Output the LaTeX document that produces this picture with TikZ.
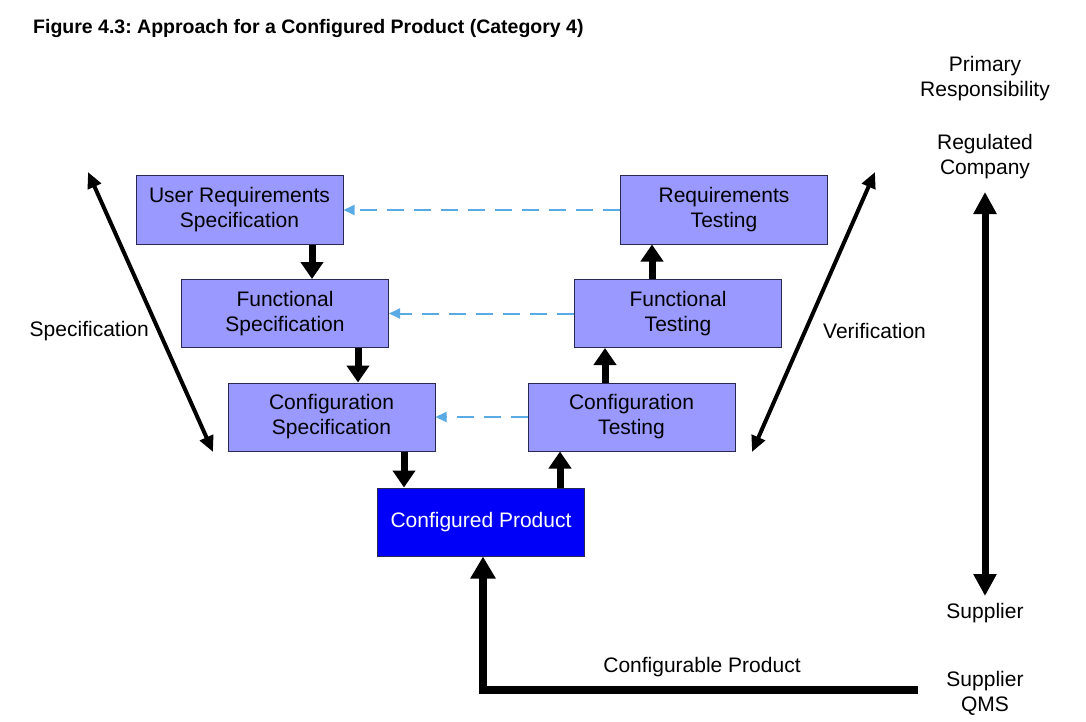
\documentclass[tikz,border=0pt]{standalone}
\usepackage{fontspec}
\setmainfont{Liberation Sans}
\usetikzlibrary{arrows.meta}
\frenchspacing
\definecolor{boxfill}{RGB}{153,153,255}
\definecolor{boxline}{RGB}{40,40,80}
\definecolor{prodfill}{RGB}{0,0,250}
\definecolor{dashblue}{RGB}{90,170,230}
\tikzset{
  x=1pt,y=-1pt,
  stage/.style={draw=boxline,line width=1pt,fill=boxfill,minimum width=207pt,minimum height=68pt,
    inner sep=0pt,align=center,font=\fontsize{21}{25}\selectfont},
  prod/.style={stage,fill=prodfill,text=white},
  lbl/.style={align=center,font=\fontsize{21}{25}\selectfont,inner sep=0pt},
  flow/.style={line width=7pt,-{Triangle[width=22pt,length=17pt]}},
  trace/.style={dashblue,line width=2pt,dash pattern=on 17pt off 10pt,-{Triangle[width=10pt,length=11pt]}},
  span/.style={line width=4pt,{Triangle[width=14pt,length=16pt]}-{Triangle[width=14pt,length=16pt]}},
  resp/.style={line width=7pt,{Triangle[width=22pt,length=22pt]}-{Triangle[width=22pt,length=22pt]}},
}
\begin{document}
\begin{tikzpicture}
\useasboundingbox (0,0) rectangle (1086,722);
\node[anchor=base west,font=\bfseries\fontsize{19.5}{23}\selectfont,inner sep=0pt] (title) at (33,34) {Figure 4.3: Approach for a Configured Product (Category 4)};

\node[stage] (urs) at (239.5,210) {User Requirements\\Specification};
\node[stage] (rt)  at (724,210) {Requirements\\Testing};
\node[stage] (fs)  at (285,313.5) {Functional\\Specification};
\node[stage] (ft)  at (678,313.5) {Functional\\Testing};
\node[stage] (cs)  at (331.5,417) {Configuration\\Specification};
\node[stage] (ct)  at (631.5,417) {Configuration\\Testing};
\node[prod]  (cp)  at (481,522) {Configured Product};

% thick flow arrows
\draw[flow] (urs.south -| 312,0) -- (fs.north -| 312,0);
\draw[flow] (fs.south -| 358,0) -- (cs.north -| 358,0);
\draw[flow] (cs.south -| 404,0) -- (cp.north -| 404,0);
\draw[flow] (cp.north -| 560,0) -- (ct.south -| 560,0);
\draw[flow] (ct.north -| 605,0) -- (ft.south -| 605,0);
\draw[flow] (ft.north -| 652,0) -- (rt.south -| 652,0);

% dashed traceability
\draw[trace] (rt.west) -- (urs.east);
\draw[trace] (ft.west) -- (fs.east);
\draw[trace] (ct.west) -- (cs.east);

% diagonal spans
\coordinate (sa) at (88,172);
\coordinate (sb) at (213,452);
\coordinate (va) at (875,172);
\coordinate (vb) at (752,452);
\draw[span] (sa) -- (sb);
\draw[span] (va) -- (vb);
\node[lbl,anchor=east] (spec) at (149,331) {Specification};
\node[lbl,anchor=west] (ver) at (823,331) {Verification};

% responsibility
\node[lbl] (pr) at (985,79) {Primary\\Responsibility};
\node[lbl] (rc) at (985,157) {Regulated\\Company};
\node[lbl] (sup) at (985,613) {Supplier};
\node[lbl] (qms) at (985,693) {Supplier\\QMS};
\coordinate (ra) at (985,192);
\coordinate (rb) at (985,596);
\draw[resp] (ra) -- (rb);

% configurable product feed
\coordinate (feed) at (918,690);
\draw[line width=8pt,-{Triangle[width=24pt,length=22pt]}] (feed) -- (483,690) -- (cp.south -| 483,0);
\node[lbl] (cfg) at (702,667) {Configurable Product};
\end{tikzpicture}
\end{document}
